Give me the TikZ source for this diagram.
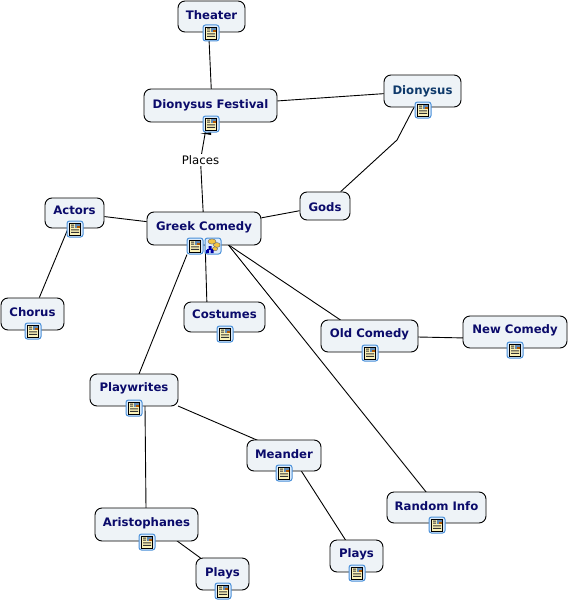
\documentclass[tikz,border=0pt]{standalone}
\usepackage{fontspec}
\setmainfont{DejaVu Sans}
\usetikzlibrary{backgrounds}
\definecolor{boxfill}{HTML}{EEF3F7}
\definecolor{navy}{HTML}{0B0B6B}
\definecolor{tealnavy}{HTML}{0F3A6B}
\definecolor{iconblue}{HTML}{4A90D9}
\definecolor{iconinner}{HTML}{DCEBFA}
\definecolor{paper}{HTML}{FBF2B8}
\definecolor{gold}{HTML}{F5C542}
\tikzset{
  x=1pt,y=-1pt,
  topic/.style={draw=black,line width=0.9pt,fill=boxfill,rounded corners=7pt,inner sep=0pt,
    text=navy,font=\fontsize{11.7}{14}\bfseries\selectfont,text height=10pt,text depth=4pt,align=center},
  conn/.style={draw=black,line width=0.9pt},
  lbl/.style={fill=white,inner sep=1pt,font=\fontsize{11.7}{13}\selectfont,text=black},
  doc/.pic={
    \draw[draw=iconblue,line width=1pt,fill=iconinner,rounded corners=2.5pt] (-8,-8) rectangle (8,8);
    \draw[draw=black,line width=0.8pt,fill=paper] (-5.5,-6) rectangle (5.5,6);
    \fill[fill=black!80] (-4,-4.5) rectangle (-1,-3.5) (-4,-2.3) rectangle (-1,-1.3) (-4,0.3) rectangle (4,1.3) (-4,2.8) rectangle (4,3.8);
    \fill[fill=iconblue!60!gray] (-0.2,-5.2) rectangle (4.6,-0.6);
    \fill[fill=orange!70!black] (2.2,-2.8) rectangle (4.6,-0.6);
  },
  cmap/.pic={
    \draw[draw=iconblue,line width=1pt,fill=iconinner,rounded corners=2.5pt] (-8,-8) rectangle (8,8);
    \draw[draw=black!60,line width=0.4pt,fill=gold] (-1,-4.5) ellipse (4 and 2.6);
    \draw[draw=black!60,line width=0.4pt,fill=gold] (3.8,-1) ellipse (3.4 and 2.4);
    \draw[draw=black!60,line width=0.4pt,fill=gold] (2,2.8) ellipse (2.6 and 2);
    \fill[fill=blue!65!black] (-4.5,0) rectangle (-1.5,3) (-2.5,4.2) rectangle (0.5,7) (-7,4.2) rectangle (-4,7);
    \draw[blue!65!black,line width=0.5pt] (-3,3) -- (-3,3.8) (-5.5,4.2) -- (-5.5,3.6) -- (-1,3.6) -- (-1,4.2);
  },
}
\newcommand{\tp}[7]{\node[topic,minimum width=#3 pt,minimum height=#4 pt] (#1) at (#2) {\raisebox{#6pt}{#5}};#7}
\begin{document}
\begin{tikzpicture}
\useasboundingbox (0,0) rectangle (568,602);
\tp{theater}{211.5,16.5}{67}{31}{Theater}{0}{\pic at (211,33) {doc};}
\tp{fest}{210.5,105.5}{133}{33}{Dionysus Festival}{0}{\pic at (211,124) {doc};}
\tp{dio}{422.5,91}{77}{32}{\textcolor{tealnavy}{Dionysus}}{0}{\pic at (423,110) {doc};}
\tp{gods}{325,206}{50}{28}{Gods}{-2}{}
\tp{greek}{204,228.5}{114}{33}{Greek Comedy}{1}{\pic at (195,246) {doc};\pic at (213,246) {cmap};}
\tp{actors}{74.5,213}{59}{30}{Actors}{2}{\pic at (75,229) {doc};}
\tp{chorus}{32.5,314}{63}{32}{Chorus}{1}{\pic at (33,331) {doc};}
\tp{costumes}{224.5,317}{81}{30}{Costumes}{2}{\pic at (225,334) {doc};}
\tp{old}{369.5,336}{97}{32}{Old Comedy}{2}{\pic at (370,353) {doc};}
\tp{new}{515,332}{104}{32}{New Comedy}{2}{\pic at (515,350) {doc};}
\tp{play}{134,390}{88}{32}{Playwrites}{2}{\pic at (134,408) {doc};}
\tp{meander}{284,455.5}{74}{31}{Meander}{0}{\pic at (284,473) {doc};}
\tp{aristo}{146.5,524.5}{103}{33}{Aristophanes}{1}{\pic at (147,542) {doc};}
\tp{playsa}{222.5,574}{53}{32}{Plays}{1}{\pic at (223,591) {doc};}
\tp{playsb}{356.5,556}{53}{32}{Plays}{2}{\pic at (357,573) {doc};}
\tp{random}{436.5,507.5}{99}{31}{Random Info}{0}{\pic at (437,525) {doc};}
\node[lbl] (places) at (200.5,160) {Places};
\coordinate (bend) at (397,140);
\fill[black] (200.5,133.2) -- (211,132.6) -- (211,135) -- cycle;
\begin{scope}[on background layer]
\fill[white] (0,0) rectangle (568,602);
\draw[conn] ([shift={(-3.5,0)}]theater.center) -- ([shift={(1.5,0)}]fest.center);
\draw[conn] (fest) -- (dio);
\draw[conn] (dio) -- (bend) -- (gods);
\draw[conn] ([shift={(-4,20)}]fest.center) -- (places) -- ([shift={(0,0)}]greek.center);
\draw[conn] (greek) -- (gods);
\draw[conn] (greek) -- (actors);
\draw[conn] (actors) -- (chorus);
\draw[conn] ([shift={(1,10)}]greek.center) -- ([shift={(-17.5,-10)}]costumes.center);
\draw[conn] ([shift={(-17,26)}]greek.center) -- ([shift={(5,-16)}]play.center);
\draw[conn] ([shift={(24,16)}]greek.center) -- ([shift={(-29,-16)}]old.center);
\draw[conn] ([shift={(24,16)}]greek.center) -- ([shift={(-10,-15)}]random.center);
\draw[conn] (old.center) -- ([shift={(0,7)}]new.center);
\draw[conn] ([shift={(11,16)}]play.center) -- ([shift={(-0.5,-16)}]aristo.center);
\draw[conn] ([shift={(44,16)}]play.center) -- ([shift={(-26,-15)}]meander.center);
\draw[conn] ([shift={(17,15)}]meander.center) -- ([shift={(-11,-16)}]playsb.center);
\draw[conn] ([shift={(30,16)}]aristo.center) -- ([shift={(-22,-16)}]playsa.center);
\end{scope}
\end{tikzpicture}
\end{document}
